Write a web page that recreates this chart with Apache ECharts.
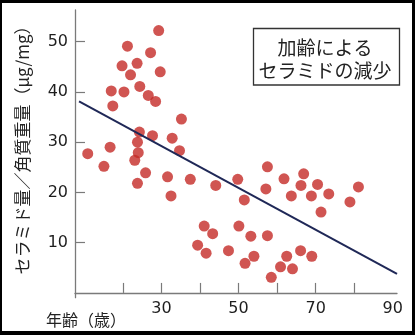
<!DOCTYPE html>
<html>
<head>
<meta charset="utf-8">
<script src="https://cdn.jsdelivr.net/npm/echarts@6/dist/echarts.min.js"></script>
<style>html,body{margin:0;padding:0;background:#000;}#c{width:415px;height:335px;}</style>
</head>
<body>
<div id="c"></div>
<script>
// ---- data ----
const ages = [10.9,15.1,16.7,17.0,17.4,20.3,19.8,21.2,22.0,23.7,24.4,26.6,27.2,28.5,29.3,29.7,24.3,23.8,24.0,23.1,23.8,25.9,27.7,31.6,32.5,32.8,35.2,34.7,37.5,39.4,41.1,41.6,43.3,44.1,47.4,49.8,50.1,51.5,51.7,53.2,54.0,57.5,57.1,57.5,58.5,60.9,61.8,62.5,63.7,64.0,66.1,66.2,66.9,68.9,69.0,70.5,71.4,73.4,78.9,81.1];
const ceramide = [27.7,25.2,29.0,40.2,37.2,40.0,45.2,49.1,43.4,45.7,41.1,39.3,47.8,38.1,52.2,44.0,32.0,30.0,27.9,26.4,21.8,23.9,31.3,23.1,19.3,30.8,34.6,28.3,22.6,9.5,13.3,7.9,11.8,21.4,8.4,22.6,13.3,18.5,5.9,11.3,7.3,25.1,20.7,11.4,3.1,5.2,22.7,7.3,19.3,4.8,8.4,21.4,23.7,19.3,7.3,21.6,16.1,19.7,18.1,21.1];
const trendAge = [8.65, 91.1];
const trendValue = [38.1, 3.8];
const xTicks = [20,30,40,50,60,70,80];
const xLabels = [30,50,70,90];
const yTicks = [10,20,30,40,50];
const yTitle = 'セラミド量／角質重量（μg/mg）';
const xTitle = '年齢（歳）';
const boxLines = ['加齢による','セラミドの減少'];

const chart = echarts.init(document.getElementById('c'));
const axisColor = '#7a7a7a';
chart.setOption({
  backgroundColor: '#000',
  animation: false,
  grid: {left: 75, right: 18, top: 10, bottom: 37.3},
  xAxis: {
    type: 'value', min: 7.6, max: 91.1,
    splitLine: {show: false},
    axisLine: {lineStyle: {color: axisColor, width: 1.3}},
    axisTick: {inside: true, length: 10, customValues: xTicks, lineStyle: {color: axisColor, width: 1.2}},
    axisLabel: {customValues: xLabels, margin: 3, fontFamily: 'DejaVu Sans', fontSize: 16, color: '#1e1e1e'}
  },
  yAxis: {
    type: 'value', min: -0.95, max: 56.3,
    splitLine: {show: false},
    axisLine: {show: true, lineStyle: {color: axisColor, width: 1.3}},
    axisTick: {show: true, inside: true, length: 10, customValues: yTicks, lineStyle: {color: axisColor, width: 1.2}},
    axisLabel: {customValues: yTicks, margin: 7, fontFamily: 'DejaVu Sans', fontSize: 16, color: '#1e1e1e'}
  },
  graphic: [
    {type: 'rect', z: -100, silent: true, shape: {x: 2, y: 3, width: 410, height: 328}, style: {fill: '#fff'}},
    {type: 'text', x: 23, y: 146, rotation: Math.PI/2, style: {text: yTitle, font: '17px "Noto Sans CJK JP"', fill: '#222', align: 'center', verticalAlign: 'middle'}},
    {type: 'text', x: 46, y: 320, style: {text: xTitle, font: '16px "Noto Sans CJK JP"', fill: '#222', align: 'left', verticalAlign: 'middle'}},
    {type: 'rect', shape: {x: 253.5, y: 28.5, width: 146, height: 56.5}, style: {fill: 'none', stroke: '#333', lineWidth: 1.3}},
    {type: 'text', x: 325, y: 47.5, style: {text: boxLines[0], font: '19px "Noto Sans CJK JP"', fill: '#222', align: 'center', verticalAlign: 'middle'}},
    {type: 'text', x: 325, y: 71, style: {text: boxLines[1], font: '19px "Noto Sans CJK JP"', fill: '#222', align: 'center', verticalAlign: 'middle'}}
  ],
  series: [
    {type: 'scatter', symbolSize: 11, itemStyle: {color: '#c42b27'}, data: ages.map((a, i) => [a, ceramide[i]]), z: 3},
    {type: 'line', symbol: 'none', lineStyle: {color: '#1f2857', width: 2}, data: trendAge.map((a, i) => [a, trendValue[i]]), z: 4}
  ]
});
</script>
</body>
</html>
